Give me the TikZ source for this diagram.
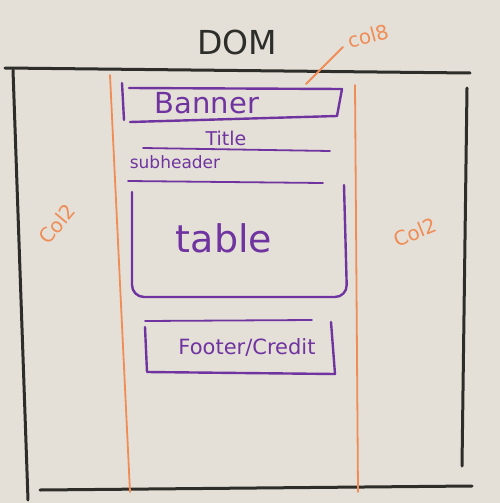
\documentclass[tikz,border=0pt]{standalone}
\usepackage{fontspec}
\setmainfont{DejaVu Sans}
\definecolor{board}{RGB}{228,224,216}
\definecolor{ink}{RGB}{45,45,42}
\definecolor{pen}{RGB}{112,52,160}
\definecolor{orng}{RGB}{240,140,85}
\tikzset{
  blackline/.style={draw=ink,line width=3pt,line cap=round},
  orangeline/.style={draw=orng,line width=1.8pt,line cap=round},
  purpleline/.style={draw=pen,line width=2.4pt,line cap=round,line join=round},
  purpletext/.style={text=pen,font=\fontsize{29}{31}\selectfont},
  orangetext/.style={text=orng,font=\fontsize{20}{22}\selectfont},
}
\begin{document}
\begin{tikzpicture}[x=1pt,y=-1pt]
\fill[board] (0,0) rectangle (500,503);
\useasboundingbox (0,0) rectangle (500,503);
% black frame
\draw[blackline] (5,68) -- (470,73);
\draw[blackline] (13,70) -- (28,500);
\draw[blackline] (467,88) -- (462,466);
\draw[blackline] (40,490) -- (472,486);
% orange columns
\draw[orangeline] (110,75) -- (130,492);
\draw[orangeline] (355,85) -- (358,492);
% titles
\node[text=ink,font=\fontsize{33}{35}\selectfont] (dom) at (237,42) {DOM};
\node[orangetext,rotate=15] (col8) at (368,36) {col8};
\coordinate (col8tip) at (306,84);
\draw[orangeline] (343,47) -- (col8tip);
\node[orangetext,rotate=50] (col2l) at (57,224) {Col2};
\node[orangetext,rotate=22] (col2r) at (415,232) {Col2};
% banner
\draw[purpleline] (122,83) -- (124,120);
\draw[purpleline] (129,88) -- (342,89) -- (337,116) -- (130,122);
\node[purpletext] (banner) at (207,103) {Banner};
% title / subheader
\node[text=pen,font=\fontsize{19}{21}\selectfont] (title) at (226,138) {Title};
\draw[purpleline,line width=1.8pt] (143,148) -- (330,151);
\node[text=pen,font=\fontsize{17}{19}\selectfont] (sub) at (175,162) {subheader};
\draw[purpleline,line width=1.8pt] (128,181) -- (323,183);
% table
\draw[purpleline,rounded corners=12pt] (132,192) -- (132,297) -- (347,297) -- (344,185);
\node[text=pen,font=\fontsize{38}{40}\selectfont] (table) at (224,238) {table};
% footer
\draw[purpleline,line width=1.8pt] (145,321) -- (312,320);
\draw[purpleline] (145,327) -- (147,372) -- (335,374) -- (331,322);
\node[text=pen,font=\fontsize{21}{23}\selectfont] (footer) at (247,347) {Footer/Credit};
\end{tikzpicture}
\end{document}
